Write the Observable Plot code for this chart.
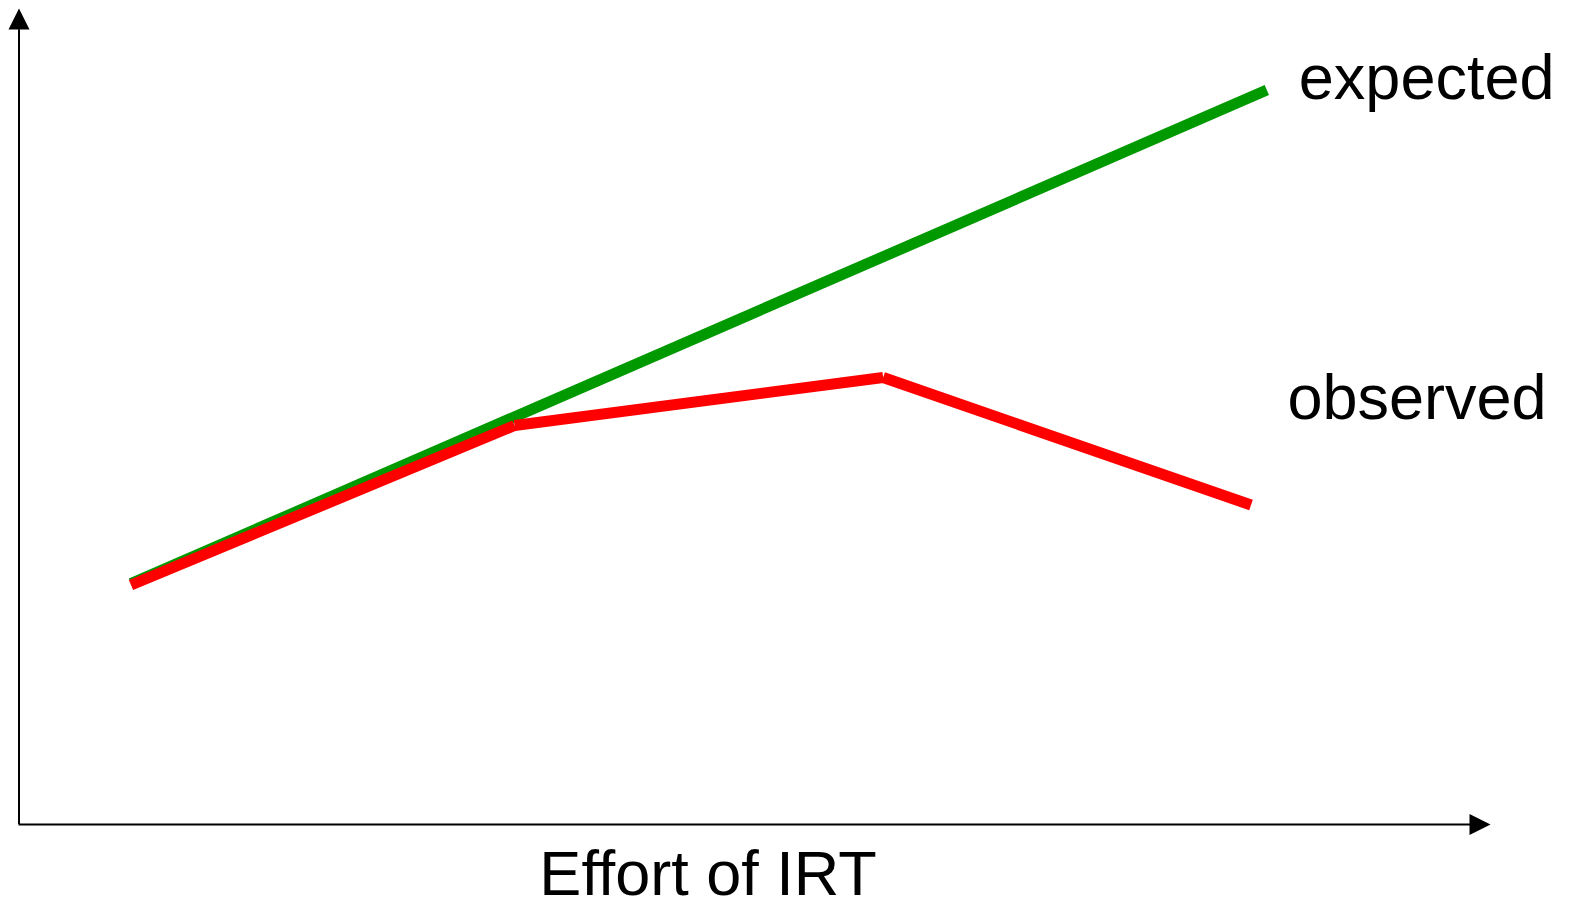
<!DOCTYPE html>
<html>
<head>
<meta charset="utf-8">
<script src="https://cdn.jsdelivr.net/npm/d3@7"></script>
<script src="https://cdn.jsdelivr.net/npm/@observablehq/plot@0.6"></script>
<style>
  html, body { margin: 0; padding: 0; background: #fff; }
  #chart svg { display: block; }
</style>
</head>
<body>
<div id="chart"></div>
<script>
// Series values (arbitrary units: effort on x, outcome on y)
const expectedX = [0.3045, 3.392];
const expectedY = [2.953, 9.001];
const observedX = [0.3045, 1.347, 2.349, 3.349];
const observedY = [2.935, 4.890, 5.478, 3.915];

// Labels
const seriesLabels = ["expected", "observed"];
const labelX = [3.479, 3.448];
const labelY = [8.897, 4.975];
const xAxisTitle = "Effort of IRT";
const xAxisTitleX = 1.873;
const xAxisTitleY = -0.865;

// Axis extents
const xMax = 4;
const yMax = 10;

const expected = expectedX.map((x, i) => ({x, y: expectedY[i]}));
const observedSegs = observedX.slice(1).map((x, i) => ({
  x1: observedX[i], y1: observedY[i], x2: x, y2: observedY[i + 1]
}));
const labels = seriesLabels.map((t, i) => ({t, x: labelX[i], y: labelY[i]}));

const arrowUp = {draw(ctx) { ctx.moveTo(0, 0); ctx.lineTo(-10.5, 21); ctx.lineTo(10.5, 21); ctx.closePath(); }};
const arrowRight = {draw(ctx) { ctx.moveTo(0, 0); ctx.lineTo(-21, -10.5); ctx.lineTo(-21, 10.5); ctx.closePath(); }};

const chart = Plot.plot({
  width: 1571,
  height: 902,
  marginLeft: 18.5,
  marginRight: 81,
  marginTop: 8,
  marginBottom: 78,
  x: {domain: [0, xMax], axis: null},
  y: {domain: [0, yMax], axis: null},
  style: {fontFamily: "'Liberation Sans', Arial, Helvetica, sans-serif", background: "#fff", overflow: "visible"},
  marks: [
    Plot.ruleX([0], {y1: 0, y2: yMax - 0.26, stroke: "black", strokeWidth: 2}),
    Plot.ruleY([0], {x1: 0, x2: xMax - 0.054, stroke: "black", strokeWidth: 2}),
    Plot.dot([{x: 0, y: yMax}], {x: "x", y: "y", symbol: arrowUp, r: 5, fill: "black", stroke: null}),
    Plot.dot([{x: xMax, y: 0}], {x: "x", y: "y", symbol: arrowRight, r: 5, fill: "black", stroke: null}),
    Plot.line(expected, {x: "x", y: "y", stroke: "#009900", strokeWidth: 11, strokeLinecap: "butt"}),
    Plot.link(observedSegs, {x1: "x1", y1: "y1", x2: "x2", y2: "y2", stroke: "#ff0000", strokeWidth: 11, strokeLinecap: "butt"}),
    Plot.text(labels, {x: "x", y: "y", text: "t", textAnchor: "start", lineAnchor: "bottom", fontSize: 63, fill: "black"}),
    Plot.text([xAxisTitle], {x: xAxisTitleX, y: xAxisTitleY, text: d => d, textAnchor: "middle", lineAnchor: "bottom", fontSize: 63, fill: "black"})
  ]
});
document.getElementById("chart").appendChild(chart);
</script>
</body>
</html>
